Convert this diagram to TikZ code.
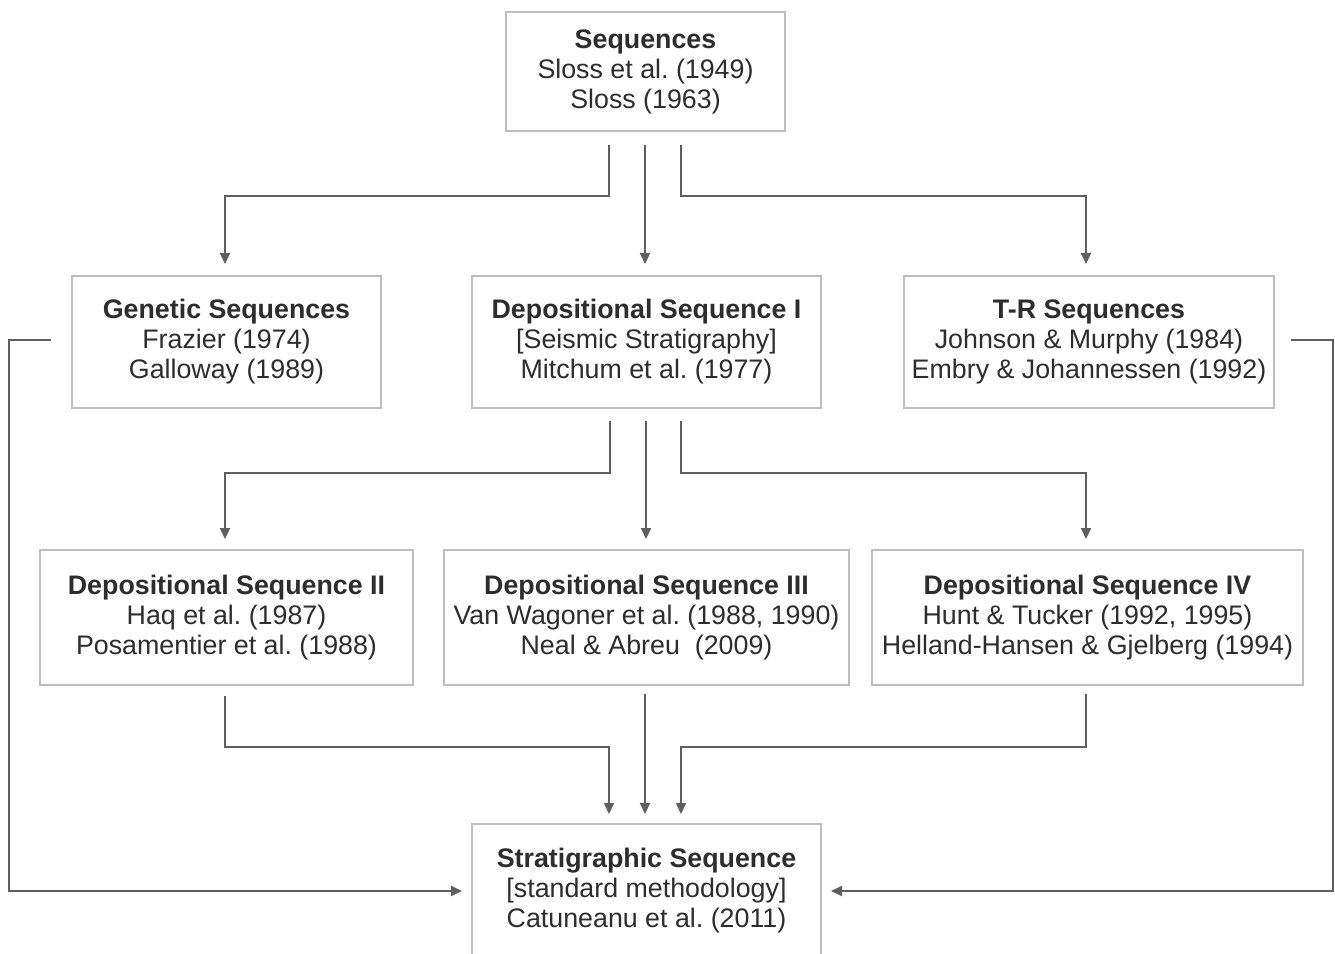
\documentclass[tikz,border=0pt]{standalone}
\usepackage{fontspec}
\setmainfont{Liberation Sans}
\usetikzlibrary{calc,arrows.meta}
\definecolor{boxgray}{RGB}{190,190,190}
\definecolor{linegray}{RGB}{95,95,95}
\definecolor{txtgray}{RGB}{45,45,45}
\frenchspacing
\tikzset{
	seqbox/.style={draw=boxgray, line width=1pt, align=center, text=txtgray,
		font=\fontsize{13.4}{15}\selectfont, inner sep=0pt},
	arr/.style={draw=linegray, line width=1pt, -{Triangle[length=5.5pt,width=5pt]}},
	lnk/.style={draw=linegray, line width=1pt}
}

\begin{document}
\begin{tikzpicture}[x=0.5pt, y=-0.5pt]
			%%%%% START %%%%%
			\clip (0, 0) rectangle (1335, 954);
			\fill[white] (0, 0) rectangle (1335, 954);
			
			% boxes
			\node[seqbox, minimum width=139.5pt, minimum height=59.5pt] (seq) at (645.5, 71.5)
				{\textbf{Sequences}\\Sloss et al. (1949)\\Sloss (1963)};
			
			\node[seqbox, minimum width=154.5pt, minimum height=66pt] (gen) at (226.5, 342)
				{\textbf{Genetic Sequences}\\Frazier (1974)\\Galloway (1989)};
			\node[seqbox, minimum width=174.5pt, minimum height=66pt] (dep1) at (646.5, 342)
				{\textbf{Depositional Sequence I}\\{[}Seismic Stratigraphy{]}\\Mitchum et al. (1977)};
			\node[seqbox, minimum width=185pt, minimum height=66pt] (tr) at (1089, 342)
				{\textbf{T-R Sequences}\\Johnson \& Murphy (1984)\\Embry \& Johannessen (1992)};
			
			\node[seqbox, minimum width=186.5pt, minimum height=67.5pt] (dep2) at (226.5, 617.5)
				{\textbf{Depositional Sequence II}\\Haq et al. (1987)\\Posamentier et al. (1988)};
			\node[seqbox, minimum width=202.5pt, minimum height=67.5pt] (dep3) at (646.5, 617.5)
				{\textbf{Depositional Sequence III}\\Van Wagoner et al. (1988, 1990)\\Neal \& Abreu\ \ (2009)};
			\node[seqbox, minimum width=215.5pt, minimum height=67.5pt] (dep4) at (1087.5, 617.5)
				{\textbf{Depositional Sequence IV}\\Hunt \& Tucker (1992, 1995)\\Helland-Hansen \& Gjelberg (1994)};
			
			\node[seqbox, minimum width=174.5pt, minimum height=67pt] (strat) at (646.5, 891)
				{\textbf{Stratigraphic Sequence}\\{[}standard methodology{]}\\Catuneanu et al. (2011)};
			
			% sequences -> second row
			\draw[arr] ($(seq.south)+(-36.5,13)$) |- ($(gen.north)+(-1.5,-79)$) -- ($(gen.north)+(-1.5,-11)$);
			\draw[arr] ($(seq.south)+(-0.5,13)$) -- ($(dep1.north)+(-1.5,-11)$);
			\draw[arr] ($(seq.south)+(35.5,13)$) |- ($(tr.north)+(-3,-79)$) -- ($(tr.north)+(-3,-11)$);
			
			% depositional sequence I -> third row
			\draw[arr] ($(dep1.south)+(-36.5,12)$) |- ($(dep2.north)+(-1.5,-76)$) -- ($(dep2.north)+(-1.5,-10)$);
			\draw[arr] ($(dep1.south)+(-0.5,12)$) -- ($(dep3.north)+(-0.5,-10)$);
			\draw[arr] ($(dep1.south)+(34.5,12)$) |- ($(dep4.north)+(-1.5,-76)$) -- ($(dep4.north)+(-1.5,-10)$);
			
			% third row -> stratigraphic sequence
			\draw[arr] ($(dep2.south)+(-1.5,10)$) |- ($(strat.north)+(-37.5,-76)$) -- ($(strat.north)+(-37.5,-9)$);
			\draw[arr] ($(dep3.south)+(-1.5,8)$) -- ($(strat.north)+(-1.5,-9)$);
			\draw[arr] ($(dep4.south)+(-1.5,8)$) |- ($(strat.north)+(34.5,-76)$) -- ($(strat.north)+(34.5,-9)$);
			
			% side links
			\draw[arr] ($(gen.west)+(-20,-2)$) -- ++(-42,0) |- ($(strat.west)+(-9,0)$);
			\draw[arr] ($(tr.east)+(16,-2)$) -- ++(42,0) |- ($(strat.east)+(9,0)$);
			
			%%%%% END %%%%%
\end{tikzpicture}
\end{document}
